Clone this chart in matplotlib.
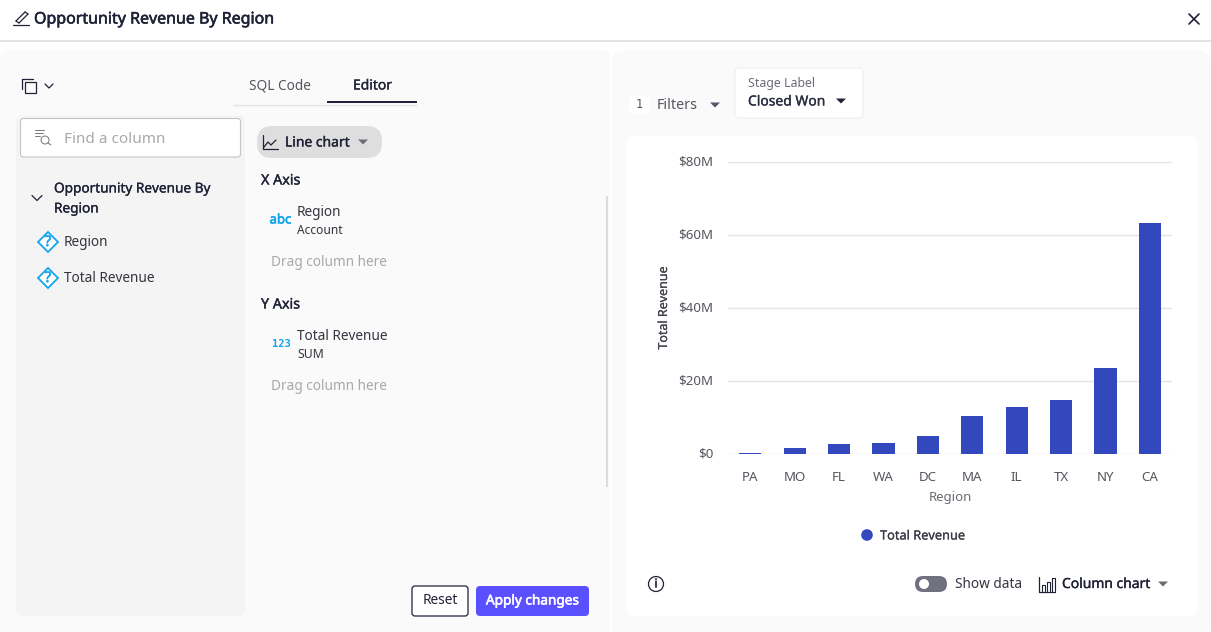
#!/usr/bin/env python3
"""
Opportunity revenue by region: column chart inside the editor dialog.
"""

import matplotlib

matplotlib.use("Agg")
import matplotlib.pyplot as plt
import matplotlib.patheffects as pe
from matplotlib.patches import Circle, FancyBboxPatch, Polygon, Rectangle
from matplotlib.transforms import ScaledTranslation

plt.rcParams["font.family"] = ["Noto Sans", "DejaVu Sans"]

W, H = 1211, 632
INK = "#1f2136"
GREY = "#55565f"
FAINT = "#a8a8ad"
BLUE = "#12a5ee"
BAR = "#3248bc"

REGIONS = ["PA", "MO", "FL", "WA", "DC", "MA", "IL", "TX", "NY", "CA"]
REVENUE = [0.3, 1.7, 2.8, 3.0, 5.0, 10.4, 12.8, 14.7, 23.5, 63.3]
Y_TICKS = [0, 20, 40, 60, 80]
Y_LABELS = ["$0", "$20M", "$40M", "$60M", "$80M"]


def box(ax, x0, y0, x1, y1, r=6, fc="white", ec="none", lw=1.0, z=1):
    ax.add_patch(
        FancyBboxPatch(
            (x0 + r, y0 + r),
            x1 - x0 - 2 * r,
            y1 - y0 - 2 * r,
            boxstyle=f"round,pad={r},rounding_size={r}",
            fc=fc,
            ec=ec,
            lw=lw,
            zorder=z,
        )
    )


def label(ax, x, y, s, size=9.8, color=INK, bold=0.0, ha="left"):
    # the font has one usable weight here, so heavier text gets a thin stroke
    t = ax.text(x, y + 1.5, s, fontsize=size, color=color, ha=ha, va="center", zorder=5)
    if bold:
        t.set_path_effects([pe.withStroke(linewidth=bold, foreground=color)])
    return t


def line(ax, xs, ys, color=INK, lw=1.0, z=5):
    ax.plot(xs, ys, color=color, lw=lw, zorder=z, solid_capstyle="round")


def caret(ax, x, y, color="#6b6c76", w=5, h=5):
    ax.add_patch(Polygon([(x - w, y - h / 2), (x + w, y - h / 2), (x, y + h / 2)], fc=color, ec="none", zorder=5))


def chevron(ax, x, y, w=5, h=3):
    line(ax, [x - w, x, x + w], [y - h, y + h, y - h], lw=0.9)


def question_icon(ax, x, y):
    ax.add_patch(Polygon([(x - 10, y), (x, y - 10), (x + 10, y), (x, y + 10)], fc="white", ec=BLUE, lw=1.3, zorder=4))
    label(ax, x, y - 1, "?", size=10.5, color=BLUE, bold=0.4, ha="center")


def draw_dialog(ax):
    # header
    ax.add_patch(Rectangle((0, 40), W, 2, fc="#e2e2e2", ec="none", zorder=2))
    line(ax, [16, 25], [21, 12], lw=0.9)
    line(ax, [19, 28], [23, 14], lw=0.9)
    line(ax, [25, 28], [12, 14], lw=0.9)
    line(ax, [16, 19], [21, 23], lw=0.9)
    line(ax, [13, 29], [25, 25], lw=0.9)
    label(ax, 34, 18, "Opportunity Revenue By Region", size=11.5, bold=0.4)
    line(ax, [1189, 1199], [14, 24], lw=1.2)
    line(ax, [1189, 1199], [24, 14], lw=1.2)

    # panels
    box(ax, 0, 50, 612, 640, r=12, fc="#fafafa")
    box(ax, 611, 50, 1211, 640, r=16, fc="#fafafa", z=1.5)
    ax.add_patch(Rectangle((610, 50), 1.5, 582, fc="white", ec="none", zorder=1.6))
    box(ax, 16, 115, 245, 616, r=8, fc="#f4f4f4", z=2)
    box(ax, 626, 136, 1198, 616, r=8, fc="white", z=2)

    # left column list
    ax.add_patch(Rectangle((25, 82), 11, 11, fc="none", ec=INK, lw=0.9, zorder=5))
    line(ax, [22, 22, 33], [89, 79, 79], lw=0.9)
    chevron(ax, 49, 86, w=4, h=2)
    box(ax, 20.5, 118.5, 240.5, 157, r=3, fc="white", ec="#c4c4c4", lw=0.8, z=3)
    line(ax, [35, 44], [130, 130], color="#777777", lw=0.7)
    line(ax, [35, 43], [133, 133], color="#777777", lw=0.7)
    line(ax, [35, 40], [136, 136], color="#777777", lw=0.7)
    ax.add_patch(Circle((45, 140), 4, fc="none", ec="#777777", lw=0.7, zorder=5))
    line(ax, [48, 51], [143, 145], color="#777777", lw=0.7)
    label(ax, 64, 138, "Find a column", size=11, color=FAINT)
    chevron(ax, 37, 198, w=5, h=2.5)
    label(ax, 54, 187.5, "Opportunity Revenue By", bold=0.2)
    label(ax, 54, 207.5, "Region", bold=0.2)
    question_icon(ax, 48, 242)
    label(ax, 64, 241.5, "Region", color="#33343f")
    question_icon(ax, 48, 278)
    label(ax, 64, 277.5, "Total Revenue", color="#33343f")

    # tabs
    label(ax, 249, 84, "SQL Code", color=GREY)
    label(ax, 353, 84.5, "Editor", size=10, bold=0.2)
    line(ax, [233, 417], [105, 105], color="#e4e4e4", lw=1.0)
    ax.add_patch(Rectangle((327, 101), 90, 2, fc=INK, ec="none", zorder=5))

    # chart type pill
    box(ax, 257, 126, 382, 158, r=15, fc="#dedede", z=3)
    line(ax, [263, 263, 278], [135, 149, 149], lw=0.9)
    line(ax, [264, 268, 271, 276], [147, 142, 145, 140], lw=0.9)
    label(ax, 285, 141.5, "Line chart", size=10, bold=0.25)
    caret(ax, 363, 142)

    # axis fields
    label(ax, 261, 179.5, "X Axis", size=10.3, bold=0.25)
    label(ax, 280.5, 218.5, "abc", size=9.5, color=BLUE, bold=0.4, ha="center")
    label(ax, 297, 211.5, "Region", color="#33343f")
    label(ax, 297, 229.5, "Account", size=8.6, color="#33343f")
    label(ax, 271, 261.5, "Drag column here", color=FAINT)
    label(ax, 261, 303.5, "Y Axis", size=10.3, bold=0.25)
    ax.text(281, 344, "123", fontsize=7.5, color=BLUE, fontweight="bold", family="DejaVu Sans Mono", ha="center", va="center", zorder=5)
    label(ax, 297, 335.5, "Total Revenue", color="#33343f")
    label(ax, 297, 353.5, "SUM", size=8.8, color="#33343f")
    label(ax, 271, 384.5, "Drag column here", color=FAINT)
    ax.add_patch(Rectangle((606, 196), 2, 291, fc="#dcdcdc", ec="none", zorder=4))

    # buttons
    box(ax, 412, 586, 468, 616, r=3, fc="white", ec=INK, lw=0.9, z=3)
    label(ax, 440, 599.5, "Reset", size=9.8, ha="center")
    box(ax, 476, 586, 589, 616, r=4, fc="#5b50ff", z=3)
    label(ax, 532.5, 599.5, "Apply changes", size=9.8, color="white", bold=0.4, ha="center")

    # filters
    box(ax, 629, 96, 649, 114, r=3, fc="white", z=3)
    ax.text(639, 105, "1", fontsize=8.5, color=GREY, family="DejaVu Sans Mono", ha="center", va="center", zorder=5)
    label(ax, 657, 104, "Filters", size=10.3, color=GREY)
    caret(ax, 715, 105, color="#55566a")
    box(ax, 735, 68, 863, 118, r=4, fc="white", ec="#f1f1f1", z=3)
    label(ax, 748, 82.5, "Stage Label", size=8.9, color="#6c6d78")
    label(ax, 748, 100.5, "Closed Won", size=10, color="#2a2c40", bold=0.2)
    caret(ax, 841, 101, color=INK)

    # legend
    ax.add_patch(Circle((867, 535), 5.8, fc=BAR, ec="none", zorder=5))
    label(ax, 880, 534.5, "Total Revenue", size=9.2, color="#3b3c45", bold=0.15)

    # footer controls
    ax.add_patch(Circle((656, 584), 7.5, fc="none", ec=INK, lw=0.9, zorder=5))
    label(ax, 656, 582.5, "i", size=9, bold=0.2, ha="center")
    box(ax, 915, 576, 947, 592, r=8, fc="#70707f", z=3)
    ax.add_patch(Circle((924, 584), 5, fc="white", ec="none", zorder=5))
    label(ax, 955, 583, "Show data", color="#33343f")
    line(ax, [1039, 1039, 1055], [577, 592, 592], lw=0.9)
    for x0, top in [(1042, 585), (1047, 582), (1052, 578)]:
        line(ax, [x0, x0, x0 + 3, x0 + 3], [591, top, top, 591], lw=0.8)
    label(ax, 1062, 583, "Column chart", size=10, bold=0.25)
    caret(ax, 1163, 584)


def draw_chart(fig):
    # pixel box of the plot area: x 728-1172, y 162-454
    ax = fig.add_axes([728 / W, 1 - 454 / H, 444 / W, 292 / H], facecolor="none", zorder=3)
    ax.bar(range(len(REGIONS)), REVENUE, width=0.5, color=BAR, zorder=3)
    ax.set_xlim(-0.5, len(REGIONS) - 0.5)
    ax.set_ylim(0, 80)
    ax.set_yticks(Y_TICKS, Y_LABELS)
    ax.set_xticks(range(len(REGIONS)), REGIONS)
    ax.grid(axis="y", color="#e4e4e4", lw=1.0, zorder=0)
    ax.set_axisbelow(True)
    for side in ["top", "right", "left", "bottom"]:
        ax.spines[side].set_visible(False)
    ax.tick_params(axis="both", length=0, labelsize=9.6, labelcolor="#55565f")
    ax.tick_params(axis="x", pad=12.5)
    ax.tick_params(axis="y", pad=10.5)
    lift = ScaledTranslation(0, 1.5 / 100, fig.dpi_scale_trans)
    for t in ax.get_yticklabels():
        t.set_transform(t.get_transform() + lift)
    ax.set_xlabel("Region", fontsize=9.5, color="#6b6c72", labelpad=5)
    ax.set_ylabel("Total Revenue", fontsize=9, color="#44454d")
    ax.yaxis.label.set_path_effects([pe.withStroke(linewidth=0.15, foreground="#44454d")])
    ax.yaxis.set_label_coords((670 - 728) / 444, 0.5)


def main():
    fig = plt.figure(figsize=(W / 100, H / 100), dpi=100, facecolor="white")
    ui = fig.add_axes([0, 0, 1, 1], zorder=1)
    ui.set_xlim(0, W)
    ui.set_ylim(H, 0)
    ui.axis("off")
    draw_dialog(ui)
    draw_chart(fig)
    fig.savefig("out.png", dpi=100)
    plt.close(fig)


if __name__ == "__main__":
    main()
